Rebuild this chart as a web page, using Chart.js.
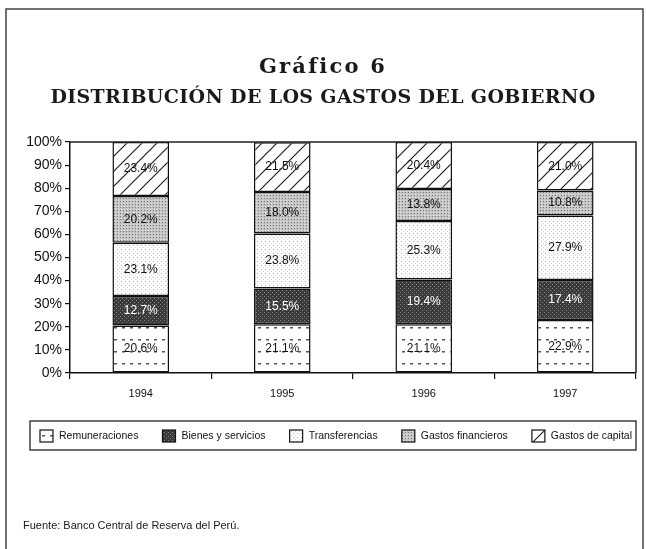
<!DOCTYPE html>
<html>
<head>
<meta charset="utf-8">
<script src="https://cdn.jsdelivr.net/npm/chart.js@4.4.1/dist/chart.umd.min.js"></script>
<style>
  body { margin: 0; background: #fff; }
  #hoja { position: relative; width: 646px; height: 549px; overflow: hidden; }
  #grafico { position: absolute; left: 0; top: 0; }
  #titulo {
    position: absolute; left: 0; top: 52px; width: 646px; text-align: center;
    font-family: "DejaVu Serif", "Liberation Serif", serif; font-weight: bold;
    line-height: 28px; color: #1a1a1a;
  }
  #linea1 { font-size: 21px; letter-spacing: 2.2px; }
  #linea2 { font-size: 19px; letter-spacing: 0.35px; }
  #fuente {
    position: absolute; left: 23px; top: 519px;
    font: 11px "Liberation Sans", Arial, sans-serif; color: #1a1a1a;
  }
</style>
</head>
<body>
<div id="hoja">
  <canvas id="grafico" width="646" height="549"></canvas>
  <div id="titulo"><span id="linea1">Gráfico 6</span><br><span id="linea2">DISTRIBUCIÓN DE LOS GASTOS DEL GOBIERNO</span></div>
  <div id="fuente">Fuente: Banco Central de Reserva del Perú.</div>
</div>
<script>
// datos (porcentajes del gasto total)
const anios = ['1994', '1995', '1996', '1997'];
const remuneraciones = [20.6, 21.1, 21.1, 22.9];
const bienesServicios = [12.7, 15.5, 19.4, 17.4];
const transferencias = [23.1, 23.8, 25.3, 27.9];
const gastosFinancieros = [20.2, 18.0, 13.8, 10.8];
const gastosCapital = [23.4, 21.5, 20.4, 21.0];
const nombres = ['Remuneraciones', 'Bienes y servicios', 'Transferencias', 'Gastos financieros', 'Gastos de capital'];

const canvas = document.getElementById('grafico');
const ctx = canvas.getContext('2d');

// tramas tipo fotocopia
function trama(w, h, fondo, dibujar) {
  const c = document.createElement('canvas');
  c.width = w; c.height = h;
  const t = c.getContext('2d');
  t.fillStyle = fondo;
  t.fillRect(0, 0, w, h);
  dibujar(t);
  return ctx.createPattern(c, 'repeat');
}

const tramaRem = trama(8, 12, '#fff', t => {
  t.fillStyle = '#555';
  t.fillRect(2, 3, 3, 1.5);
});
const tramaBienes = trama(4, 4, '#3a3a3a', t => {
  t.fillStyle = '#858585';
  t.fillRect(0, 0, 1, 1);
  t.fillRect(2, 2, 1, 1);
});
const tramaTransf = trama(4, 4, '#fdfdfd', t => {
  t.fillStyle = '#b5b5b5';
  t.fillRect(1, 1, 1, 1);
  t.fillStyle = '#dcdcdc';
  t.fillRect(3, 3, 1, 1);
});
const tramaFin = trama(3, 3, '#c4c4c4', t => {
  t.fillStyle = '#777';
  t.fillRect(0, 0, 1, 1);
  t.fillStyle = '#e8e8e8';
  t.fillRect(1, 2, 1, 1);
});
const tramaCap = trama(15, 15, '#fff', t => {
  t.strokeStyle = '#222';
  t.lineWidth = 1.2;
  t.beginPath();
  t.moveTo(-1, 16); t.lineTo(16, -1);
  t.moveTo(-8, 8); t.lineTo(8, -8);
  t.moveTo(7, 23); t.lineTo(23, 7);
  t.stroke();
});

const valores = [remuneraciones, bienesServicios, transferencias, gastosFinancieros, gastosCapital];
const tramas = [tramaRem, tramaBienes, tramaTransf, tramaFin, tramaCap];

const datasets = valores.map((v, i) => ({
  label: nombres[i],
  data: v,
  backgroundColor: tramas[i],
  borderColor: '#111',
  borderWidth: 1.5,
  borderSkipped: false,
  barPercentage: 0.4,
  categoryPercentage: 1.0
}));

// etiquetas dentro de cada tramo
const etiquetas = {
  id: 'etiquetas',
  afterDatasetsDraw(chart) {
    const c = chart.ctx;
    c.save();
    c.font = '12px "Liberation Sans", Arial, sans-serif';
    c.textAlign = 'center';
    c.textBaseline = 'middle';
    chart.data.datasets.forEach((ds, i) => {
      chart.getDatasetMeta(i).data.forEach((bar, j) => {
        c.fillStyle = i === 1 ? '#fff' : '#111';
        c.fillText(ds.data[j].toFixed(1) + '%', bar.x, (bar.y + bar.base) / 2);
      });
    });
    c.restore();
  }
};

// leyenda en una sola fila dentro de su caja (la de Chart.js no cabe sin partirse)
const leyenda = {
  id: 'leyenda',
  afterDraw(chart) {
    const c = chart.ctx;
    const items = chart.data.datasets;
    const cajaTop = 421, cajaAlto = 29;
    const yc = cajaTop + cajaAlto / 2 + 0.5;
    const x0 = 40, x1 = 632, lado = 13, sep = 6;
    c.save();
    c.font = '10.5px "Liberation Sans Narrow", "Liberation Sans", Arial, sans-serif';
    const anchos = items.map(d => c.measureText(d.label).width);
    const total = anchos.reduce((s, w) => s + w + lado + sep, 0);
    const hueco = (x1 - x0 - total) / (items.length - 1);
    c.strokeStyle = '#222';
    c.lineWidth = 1.3;
    c.strokeRect(30, cajaTop, 606, cajaAlto);
    let x = x0;
    c.textBaseline = 'middle';
    c.textAlign = 'left';
    items.forEach((d, i) => {
      c.fillStyle = d.backgroundColor;
      c.fillRect(x, yc - 6, lado, 12);
      c.lineWidth = 1.2;
      c.strokeStyle = '#111';
      c.strokeRect(x, yc - 6, lado, 12);
      c.fillStyle = '#111';
      c.fillText(d.label, x + lado + sep, yc);
      x += lado + sep + anchos[i] + hueco;
    });
    c.restore();
  }
};

// marcos: hoja y area del grafico
const marcos = {
  id: 'marcos',
  afterDraw(chart) {
    const c = chart.ctx;
    const a = chart.chartArea;
    c.save();
    c.strokeStyle = '#222';
    c.lineWidth = 1.5;
    c.beginPath();
    c.moveTo(a.left, a.top); c.lineTo(a.right, a.top); c.lineTo(a.right, a.bottom);
    c.stroke();
    c.strokeStyle = '#444';
    c.beginPath();
    c.moveTo(6, 560); c.lineTo(6, 9); c.lineTo(643, 9); c.lineTo(643, 560);
    c.stroke();
    c.restore();
  }
};

new Chart(canvas, {
  type: 'bar',
  data: { labels: anios, datasets: datasets },
  options: {
    responsive: false,
    animation: false,
    layout: { padding: { top: 142, right: 10, bottom: 146, left: 10 } },
    plugins: {
      legend: { display: false },
      tooltip: { enabled: false }
    },
    scales: {
      x: {
        stacked: true,
        afterFit(s) { s.height = 30; },
        grid: { drawOnChartArea: false, tickLength: 6, color: '#111', lineWidth: 1.2 },
        border: { color: '#111', width: 1.5 },
        ticks: { color: '#111', padding: 8, font: { family: '"Liberation Sans", Arial, sans-serif', size: 11 } }
      },
      y: {
        stacked: true,
        min: 0,
        max: 100,
        afterFit(s) { s.width = 60; },
        grid: { drawOnChartArea: false, tickLength: 5, color: '#111', lineWidth: 1.2 },
        border: { color: '#111', width: 1.5 },
        ticks: {
          stepSize: 10,
          padding: 3,
          color: '#111',
          font: { family: '"Liberation Sans", Arial, sans-serif', size: 14 },
          callback: v => v + '%'
        }
      }
    }
  },
  plugins: [etiquetas, leyenda, marcos]
});
</script>
</body>
</html>
